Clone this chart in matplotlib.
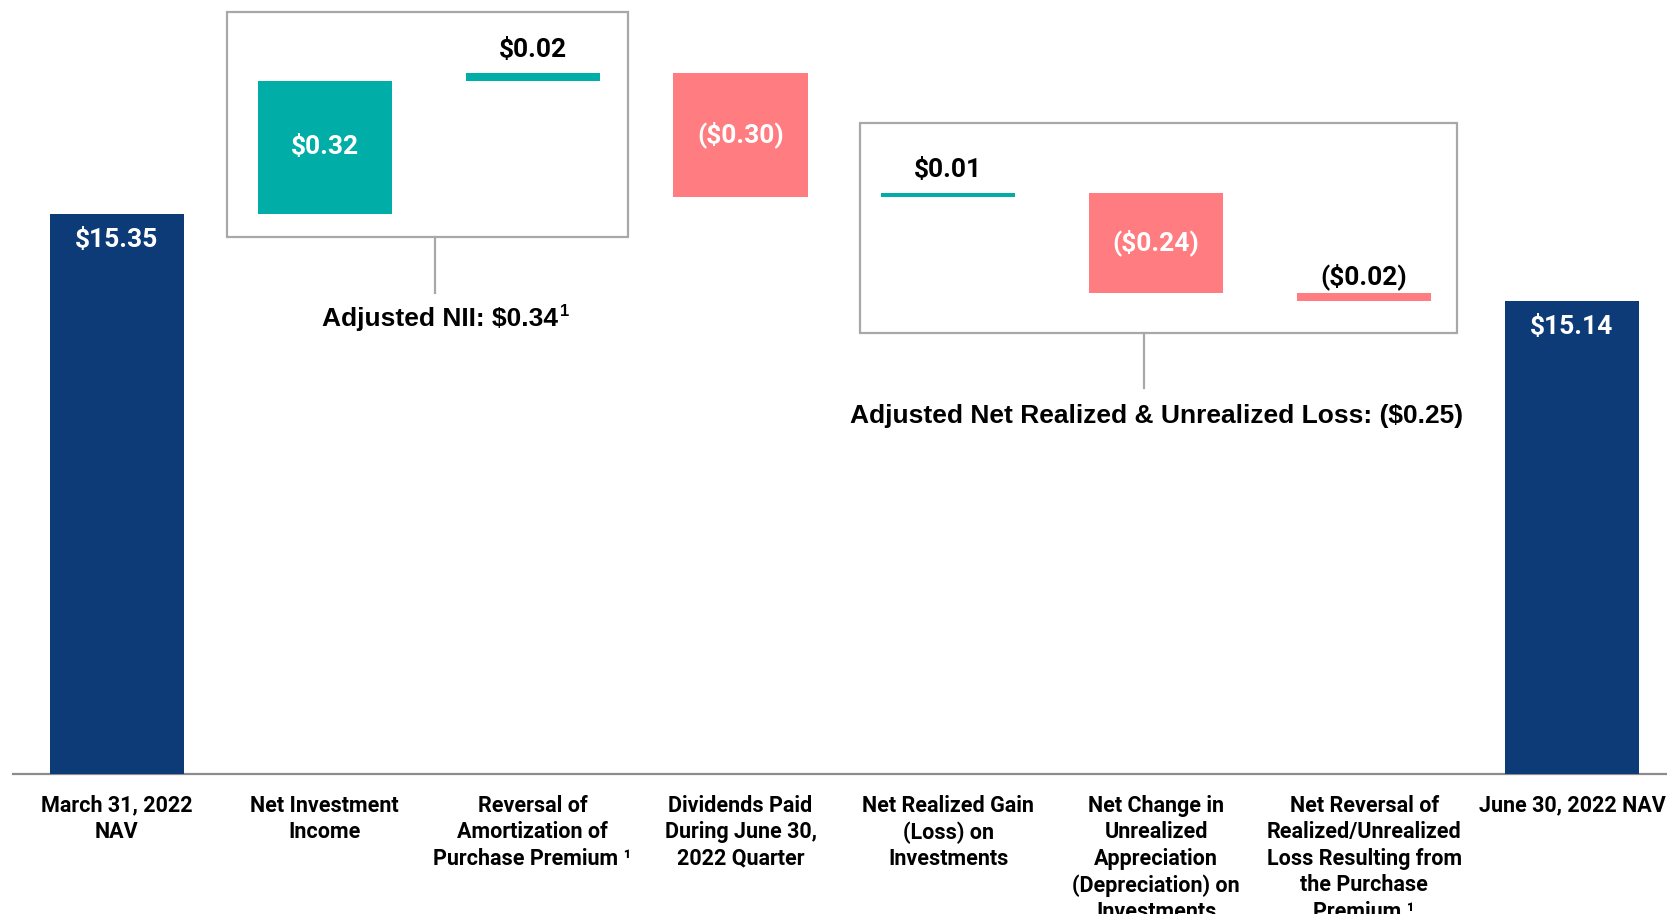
import matplotlib.pyplot as plt
from matplotlib.patches import Rectangle

plt.rcParams['text.parse_math'] = False

# NAV bridge, per-share values
categories = [
    "March 31, 2022\nNAV",
    "Net Investment\nIncome",
    "Reversal of\nAmortization of\nPurchase Premium ¹",
    "Dividends Paid\nDuring June 30,\n2022 Quarter",
    "Net Realized Gain\n(Loss) on\nInvestments",
    "Net Change in\nUnrealized\nAppreciation\n(Depreciation) on\nInvestments",
    "Net Reversal of\nRealized/Unrealized\nLoss Resulting from\nthe Purchase\nPremium ¹",
    "June 30, 2022 NAV",
]
values = [15.35, 0.32, 0.02, -0.30, 0.01, -0.24, -0.02, 15.14]
value_labels = ["$15.35", "$0.32", "$0.02", "($0.30)", "$0.01", "($0.24)", "($0.02)", "$15.14"]
is_total = [True, False, False, False, False, False, False, True]

nii_label = "Adjusted NII: $0.34"
loss_label = "Adjusted Net Realized & Unrealized Loss: ($0.25)"

AXIS_FLOOR = 14.0
NAVY = '#0C3B78'
TEAL = '#00AEA7'
SALMON = '#FF7C80'
GRAY = '#A8A8A8'


def main():
    fig = plt.figure(figsize=(16.67, 9.14), dpi=100)
    ax = fig.add_axes([13 / 1667, 140 / 914, 1 - 13 / 1667, 774 / 914])

    # waterfall geometry
    bottoms, heights, colors = [], [], []
    running = 0.0
    for v, tot in zip(values, is_total):
        if tot:
            bottoms.append(AXIS_FLOOR)
            heights.append(v - AXIS_FLOOR)
            colors.append(NAVY)
            running = v
        else:
            bottoms.append(running if v >= 0 else running + v)
            heights.append(abs(v))
            colors.append(TEAL if v >= 0 else SALMON)
            running += v

    x = list(range(len(values)))
    ax.bar(x, heights, bottom=bottoms, width=0.645, color=colors, zorder=3)

    vfont = dict(family='Roboto', weight='bold', fontsize=19)
    for i, (b, h, lab) in enumerate(zip(bottoms, heights, value_labels)):
        top = b + h
        if is_total[i]:
            ax.annotate(lab, (i, top), xytext=(0, -19), textcoords='offset points',
                        ha='center', va='center', color='white', **vfont)
        elif h >= 0.1:
            ax.text(i, b + h / 2, lab, ha='center', va='center', color='white', **vfont)
        else:
            off = 8 if values[i] > 0 else 2
            ax.annotate(lab, (i, top), xytext=(0, off), textcoords='offset points',
                        ha='center', va='bottom', color='black', **vfont)

    # grouping boxes with connectors and captions
    lfont = dict(family='Liberation Sans', weight='bold', fontsize=19, color='black')
    ax.add_patch(Rectangle((0.531, 15.294), 2.457 - 0.531, 15.837 - 15.294,
                           fill=False, edgecolor=GRAY, lw=1.6, clip_on=False, zorder=2))
    ax.plot([1.53, 1.53], [15.294, 15.159], color=GRAY, lw=1.6)
    t = ax.text(1.555, 15.096, nii_label, ha='center', va='center', **lfont)
    ax.annotate("1", xy=(1, 1), xycoords=t, xytext=(1, 2), textcoords='offset points',
                ha='left', va='top', family='Liberation Sans', weight='bold', fontsize=12)

    ax.add_patch(Rectangle((3.577, 15.063), 6.445 - 3.577, 15.569 - 15.063,
                           fill=False, edgecolor=GRAY, lw=1.6, clip_on=False, zorder=2))
    ax.plot([4.94, 4.94], [15.063, 14.930], color=GRAY, lw=1.6)
    ax.text(5.0, 14.863, loss_label, ha='center', va='center', **lfont)

    ax.set_xlim(-0.5, 7.457)
    ax.set_ylim(AXIS_FLOOR, AXIS_FLOOR + 774 / 415)
    for side in ['top', 'right', 'left']:
        ax.spines[side].set_visible(False)
    ax.spines['bottom'].set_color('#8C8C8C')
    ax.spines['bottom'].set_linewidth(1.6)
    ax.set_yticks([])
    ax.set_xticks(x)
    ax.set_xticklabels(categories, family='Roboto', weight='bold', fontsize=15.5,
                       linespacing=1.26, va='top')
    ax.tick_params(axis='x', length=0, pad=15)

    fig.savefig("out.png", dpi=100)
    plt.close(fig)


if __name__ == "__main__":
    main()
